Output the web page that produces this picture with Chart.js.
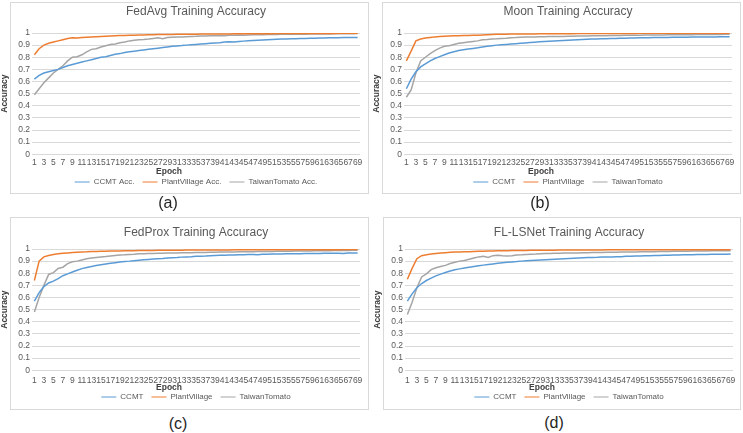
<!DOCTYPE html>
<html>
<head>
<meta charset="utf-8">
<script src="https://cdn.jsdelivr.net/npm/chart.js@4.4.0/dist/chart.umd.min.js"></script>
<style>
body { margin: 0; background: #fff; width: 743px; height: 433px; position: relative; overflow: hidden; font-family: "Liberation Sans", Arial, sans-serif; }
.box { position: absolute; border: 1px solid #d9d9d9; box-sizing: border-box; }
canvas { position: absolute; }
.cap { position: absolute; width: 40px; margin-left: -20px; text-align: center; font-size: 16px; line-height: 16px; color: #262626; }
</style>
</head>
<body>
<div class="box" style="left:10px;top:2px;width:359px;height:192px"></div>
<div class="box" style="left:382px;top:2px;width:359px;height:192px"></div>
<div class="box" style="left:10px;top:217px;width:359px;height:193px"></div>
<div class="box" style="left:383px;top:217px;width:358px;height:193px"></div>

<canvas id="cA" width="370" height="196" style="left:0;top:0"></canvas>
<canvas id="cB" width="370" height="196" style="left:372px;top:0"></canvas>
<canvas id="cC" width="370" height="195" style="left:0;top:216px"></canvas>
<canvas id="cD" width="370" height="195" style="left:373px;top:216px"></canvas>

<div class="cap" style="left:168px;top:195px">(a)</div>
<div class="cap" style="left:540px;top:195px">(b)</div>
<div class="cap" style="left:178px;top:416px">(c)</div>
<div class="cap" style="left:554px;top:415px">(d)</div>

<script>
// epoch 1..69
const epochs = [1,2,3,4,5,6,7,8,9,10,11,12,13,14,15,16,17,18,19,20,21,22,23,24,25,26,27,28,29,30,
  31,32,33,34,35,36,37,38,39,40,41,42,43,44,45,46,47,48,49,50,51,52,53,54,55,56,57,58,59,60,
  61,62,63,64,65,66,67,68,69];

// (a) FedAvg
const fedAvgCCMT = [0.62,0.65,0.67,0.68,0.69,0.70,0.715,0.73,0.74,0.75,
  0.76,0.77,0.78,0.79,0.80,0.805,0.815,0.825,0.83,0.84,
  0.845,0.85,0.855,0.86,0.865,0.87,0.875,0.88,0.885,0.89,
  0.893,0.896,0.90,0.903,0.906,0.909,0.912,0.915,0.918,0.92,
  0.925,0.928,0.925,0.93,0.933,0.936,0.938,0.94,0.942,0.944,
  0.946,0.948,0.95,0.951,0.952,0.953,0.954,0.955,0.956,0.957,
  0.958,0.959,0.96,0.96,0.961,0.962,0.962,0.963,0.963];
const fedAvgPV = [0.82,0.87,0.90,0.915,0.925,0.935,0.945,0.955,0.96,0.958,
  0.962,0.965,0.968,0.97,0.972,0.974,0.976,0.978,0.979,0.98,
  0.981,0.982,0.983,0.984,0.985,0.986,0.987,0.987,0.988,0.988,
  0.989,0.989,0.99,0.99,0.99,0.991,0.991,0.991,0.992,0.992,
  0.992,0.992,0.993,0.993,0.993,0.993,0.994,0.994,0.994,0.994,
  0.994,0.995,0.995,0.995,0.995,0.995,0.995,0.996,0.996,0.996,
  0.996,0.996,0.996,0.996,0.997,0.997,0.997,0.997,0.997];
const fedAvgTT = [0.49,0.54,0.59,0.63,0.67,0.70,0.73,0.77,0.80,0.805,
  0.82,0.845,0.865,0.87,0.885,0.895,0.905,0.91,0.92,0.925,
  0.935,0.94,0.945,0.947,0.95,0.955,0.96,0.952,0.962,0.965,
  0.967,0.968,0.97,0.972,0.973,0.975,0.976,0.977,0.978,0.98,
  0.978,0.981,0.982,0.983,0.982,0.984,0.985,0.986,0.985,0.987,
  0.988,0.988,0.989,0.99,0.99,0.99,0.991,0.99,0.991,0.992,
  0.992,0.993,0.992,0.993,0.994,0.993,0.994,0.994,0.995];

// (b) Moon
const moonCCMT = [0.54,0.62,0.68,0.72,0.745,0.77,0.79,0.805,0.82,0.835,
  0.845,0.855,0.862,0.868,0.873,0.878,0.884,0.89,0.895,0.90,
  0.903,0.906,0.909,0.912,0.915,0.918,0.921,0.924,0.927,0.93,
  0.932,0.934,0.936,0.938,0.94,0.942,0.944,0.946,0.948,0.95,
  0.951,0.952,0.953,0.954,0.955,0.956,0.957,0.958,0.959,0.96,
  0.96,0.961,0.962,0.962,0.963,0.963,0.964,0.964,0.965,0.965,
  0.966,0.966,0.967,0.967,0.968,0.968,0.969,0.969,0.97];
const moonPV = [0.77,0.85,0.935,0.95,0.958,0.963,0.968,0.971,0.973,0.975,
  0.977,0.978,0.979,0.98,0.981,0.982,0.984,0.986,0.988,0.99,
  0.99,0.99,0.991,0.991,0.991,0.992,0.992,0.992,0.993,0.993,
  0.993,0.993,0.994,0.994,0.994,0.994,0.995,0.995,0.995,0.995,
  0.995,0.995,0.996,0.996,0.996,0.996,0.996,0.996,0.996,0.997,
  0.997,0.997,0.997,0.997,0.997,0.997,0.997,0.997,0.997,0.997,
  0.997,0.997,0.997,0.997,0.997,0.997,0.997,0.997,0.997];
const moonTT = [0.47,0.53,0.67,0.77,0.80,0.83,0.855,0.875,0.89,0.895,
  0.905,0.915,0.92,0.925,0.93,0.935,0.945,0.947,0.95,0.952,
  0.955,0.957,0.96,0.962,0.965,0.966,0.967,0.968,0.969,0.97,
  0.971,0.971,0.972,0.972,0.973,0.974,0.975,0.975,0.976,0.977,
  0.977,0.978,0.978,0.979,0.98,0.98,0.981,0.981,0.982,0.982,
  0.983,0.983,0.983,0.984,0.984,0.985,0.985,0.985,0.986,0.986,
  0.986,0.987,0.987,0.987,0.988,0.988,0.988,0.989,0.989];

// (c) FedProx
const proxCCMT = [0.57,0.64,0.69,0.72,0.735,0.755,0.78,0.795,0.81,0.825,
  0.838,0.848,0.856,0.863,0.87,0.876,0.882,0.887,0.892,0.897,
  0.90,0.904,0.908,0.911,0.914,0.917,0.92,0.922,0.925,0.928,
  0.93,0.933,0.935,0.937,0.94,0.941,0.942,0.944,0.946,0.948,
  0.949,0.95,0.951,0.952,0.953,0.954,0.955,0.953,0.956,0.957,
  0.958,0.958,0.959,0.96,0.96,0.961,0.961,0.962,0.962,0.963,
  0.963,0.964,0.964,0.965,0.965,0.962,0.966,0.967,0.967];
const proxPV = [0.74,0.90,0.935,0.947,0.955,0.96,0.965,0.968,0.971,0.974,
  0.976,0.977,0.979,0.98,0.981,0.982,0.983,0.984,0.984,0.985,
  0.986,0.986,0.987,0.987,0.988,0.988,0.989,0.989,0.99,0.99,
  0.99,0.99,0.991,0.991,0.991,0.991,0.992,0.992,0.992,0.992,
  0.992,0.992,0.993,0.993,0.993,0.993,0.993,0.993,0.993,0.993,
  0.993,0.993,0.993,0.994,0.994,0.994,0.994,0.994,0.994,0.994,
  0.994,0.994,0.994,0.994,0.994,0.995,0.995,0.995,0.995];
const proxTT = [0.48,0.60,0.70,0.79,0.805,0.84,0.85,0.88,0.895,0.90,
  0.91,0.92,0.925,0.93,0.935,0.938,0.942,0.946,0.95,0.952,
  0.955,0.957,0.96,0.96,0.962,0.963,0.964,0.965,0.966,0.967,
  0.968,0.969,0.97,0.97,0.971,0.972,0.972,0.973,0.974,0.975,
  0.975,0.976,0.976,0.977,0.977,0.978,0.978,0.979,0.979,0.98,
  0.98,0.981,0.981,0.982,0.982,0.983,0.983,0.984,0.984,0.985,
  0.985,0.986,0.986,0.987,0.987,0.988,0.988,0.989,0.99];

// (d) FL-LSNet
const lsnetCCMT = [0.57,0.63,0.68,0.715,0.74,0.76,0.778,0.793,0.806,0.818,
  0.828,0.836,0.843,0.85,0.856,0.862,0.867,0.872,0.877,0.882,
  0.886,0.89,0.893,0.896,0.90,0.903,0.906,0.908,0.91,0.912,
  0.914,0.916,0.918,0.92,0.922,0.924,0.926,0.928,0.929,0.93,
  0.931,0.933,0.934,0.935,0.936,0.937,0.94,0.941,0.942,0.943,
  0.944,0.945,0.946,0.947,0.948,0.949,0.95,0.951,0.952,0.952,
  0.953,0.954,0.955,0.955,0.956,0.956,0.957,0.957,0.958];
const lsnetPV = [0.75,0.84,0.92,0.945,0.952,0.958,0.963,0.967,0.97,0.973,
  0.975,0.976,0.977,0.978,0.98,0.981,0.982,0.983,0.984,0.985,
  0.986,0.986,0.987,0.987,0.988,0.988,0.989,0.989,0.99,0.99,
  0.99,0.99,0.991,0.991,0.991,0.991,0.992,0.992,0.992,0.992,
  0.992,0.992,0.993,0.993,0.993,0.993,0.993,0.993,0.993,0.993,
  0.993,0.993,0.993,0.994,0.994,0.994,0.994,0.994,0.994,0.994,
  0.994,0.994,0.994,0.994,0.994,0.994,0.994,0.994,0.994];
const lsnetTT = [0.46,0.56,0.68,0.77,0.795,0.83,0.845,0.855,0.865,0.88,
  0.89,0.90,0.905,0.915,0.925,0.935,0.94,0.93,0.945,0.948,
  0.945,0.943,0.945,0.95,0.952,0.955,0.957,0.958,0.96,0.962,
  0.963,0.964,0.965,0.966,0.966,0.967,0.968,0.97,0.97,0.971,
  0.972,0.972,0.973,0.973,0.974,0.975,0.975,0.976,0.976,0.977,
  0.977,0.978,0.978,0.979,0.98,0.98,0.981,0.981,0.982,0.982,
  0.983,0.983,0.984,0.984,0.985,0.985,0.985,0.985,0.986];

const namesAcc = ['CCMT Acc.', 'PlantVillage Acc.', 'TaiwanTomato Acc.'];
const names = ['CCMT', 'PlantVillage', 'TaiwanTomato'];
const colors = ['#5B9BD5', '#ED7D31', '#A5A5A5'];

Chart.defaults.font.family = '"Liberation Sans", Arial, sans-serif';

// "Epoch" sits a bit left of the plot centre, like the original
const epochLabel = {
  id: 'epochLabel',
  afterDraw(chart) {
    const a = chart.chartArea, ctx = chart.ctx;
    ctx.save();
    ctx.font = 'bold 8.5px "Liberation Sans", Arial, sans-serif';
    ctx.fillStyle = '#404040';
    ctx.textAlign = 'center';
    ctx.textBaseline = 'middle';
    ctx.fillText('Epoch', (a.left + a.right) / 2 - 27, a.bottom + 17.5);
    ctx.restore();
  }
};

function drawPanel(id, title, labels, ccmt, pv, tt, topRow) {
  new Chart(document.getElementById(id), {
    type: 'line',
    data: {
      labels: epochs,
      datasets: [
        { label: labels[0], data: ccmt, borderColor: colors[0], backgroundColor: colors[0] },
        { label: labels[1], data: pv, borderColor: colors[1], backgroundColor: colors[1] },
        { label: labels[2], data: tt, borderColor: colors[2], backgroundColor: colors[2] }
      ]
    },
    options: {
      responsive: false,
      animation: false,
      devicePixelRatio: 1,
      layout: { padding: { left: 0, right: 10, top: 0, bottom: 0 } },
      elements: { point: { radius: 0 }, line: { borderWidth: 1.5, tension: 0 } },
      scales: {
        x: {
          offset: true,
          grid: { display: false, drawTicks: false },
          border: { display: false },
          ticks: {
            autoSkip: false, maxRotation: 0, minRotation: 0,
            padding: topRow ? 3 : 5,
            color: '#595959', font: { size: 8.5 },
            callback: function (v, i) { return i % 2 === 0 ? this.getLabelForValue(v) : ''; }
          },
          afterFit: function (s) { s.height = topRow ? 15.75 : 14.75; }
        },
        y: {
          min: 0, max: 1,
          grid: { color: '#d9d9d9', drawTicks: false },
          border: { display: false },
          ticks: {
            stepSize: 0.1, autoSkip: false, padding: 2, color: '#595959', font: { size: 8.5 },
            callback: function (v) { return String(Math.round(v * 10) / 10); }
          },
          title: { display: true, text: 'Accuracy', color: '#404040', font: { size: 8.5, weight: 'bold' }, padding: 0 },
          afterFit: function (s) { s.width = 32; }
        }
      },
      plugins: {
        title: {
          display: true, text: title, fullSize: false,
          color: '#595959', font: { size: 12, weight: 'normal' },
          padding: topRow ? { top: 4, bottom: 14.6 } : { top: 9, bottom: 9.6 }
        },
        legend: {
          position: 'bottom', fullSize: false,
          labels: {
            usePointStyle: true, pointStyle: 'line', pointStyleWidth: 15, boxHeight: 8,
            padding: 8, color: '#595959', font: { size: 8 }
          }
        },
        tooltip: { enabled: false }
      }
    },
    plugins: [epochLabel]
  });
}

drawPanel('cA', 'FedAvg Training Accuracy', namesAcc, fedAvgCCMT, fedAvgPV, fedAvgTT, true);
drawPanel('cB', 'Moon Training Accuracy', names, moonCCMT, moonPV, moonTT, true);
drawPanel('cC', 'FedProx Training Accuracy', names, proxCCMT, proxPV, proxTT, false);
drawPanel('cD', 'FL-LSNet Training Accuracy', names, lsnetCCMT, lsnetPV, lsnetTT, false);
</script>
</body>
</html>
